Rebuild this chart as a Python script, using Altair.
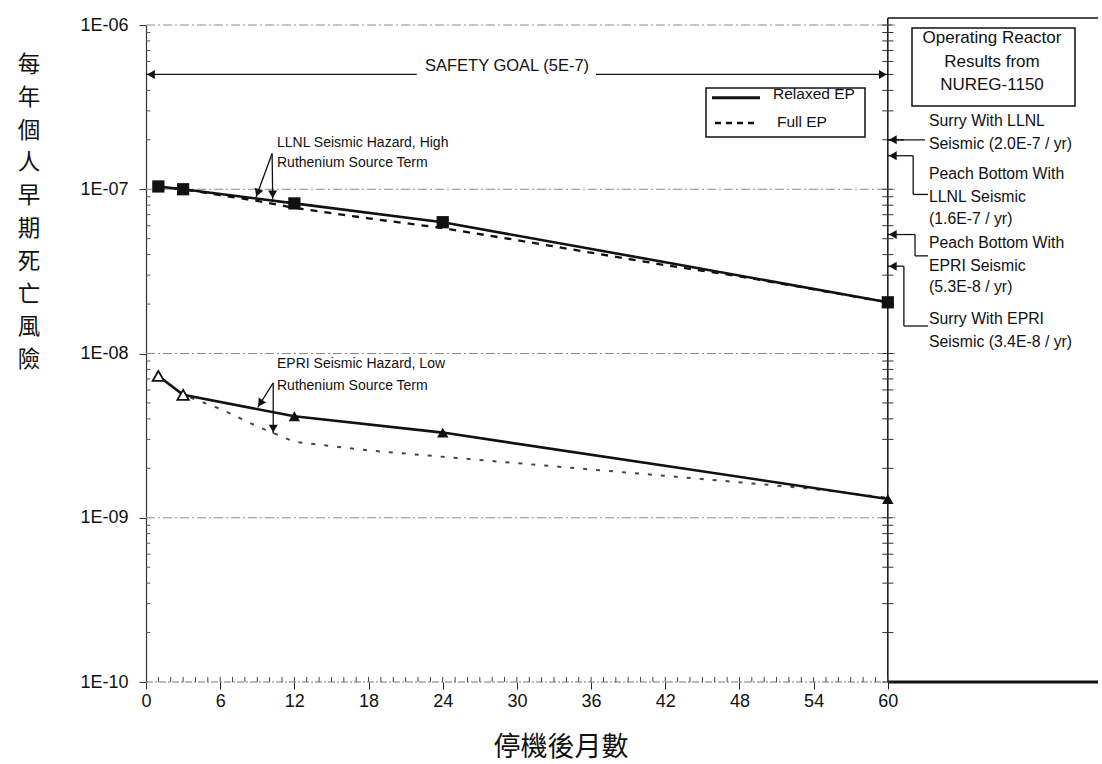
import math
import altair as alt
import pandas as pd

# ---------------- values ----------------
llnl_relaxed_months = [1, 3, 12, 24, 60]
llnl_relaxed_risk = [1.04e-7, 1.0e-7, 8.2e-8, 6.3e-8, 2.05e-8]
llnl_full_months = [1, 3, 6, 9, 12, 18, 24, 30, 42, 48, 60]
llnl_full_risk = [1.04e-7, 1.0e-7, 9.2e-8, 8.5e-8, 7.7e-8, 6.65e-8, 5.8e-8, 4.9e-8, 3.45e-8, 2.95e-8, 2.05e-8]
epri_relaxed_months = [1, 3, 12, 24, 60]
epri_relaxed_risk = [7.3e-9, 5.6e-9, 4.15e-9, 3.3e-9, 1.3e-9]
epri_full_months = [1, 3, 6, 9, 12, 18, 24, 30, 42, 54, 60]
epri_full_risk = [7.3e-9, 5.6e-9, 4.6e-9, 3.6e-9, 2.9e-9, 2.57e-9, 2.35e-9, 2.15e-9, 1.8e-9, 1.5e-9, 1.32e-9]

safety_goal = 5e-7
reactor_values = [2.0e-7, 1.6e-7, 5.3e-8, 3.4e-8]

x_tick_values = [0, 6, 12, 18, 24, 30, 36, 42, 48, 54, 60]
y_tick_values = [1e-10, 1e-9, 1e-8, 1e-7, 1e-6]

y_title = "每年個人早期死亡風險"
x_title = "停機後月數"
legend_labels = ["Relaxed EP", "Full EP"]
safety_label = "SAFETY GOAL (5E-7)"
llnl_note = ["LLNL Seismic Hazard, High", "Ruthenium Source Term"]
epri_note = ["EPRI Seismic Hazard, Low", "Ruthenium Source Term"]
box_lines = ["Operating Reactor", "Results from", "NUREG-1150"]
reactor_notes = ["Surry With LLNL", "Seismic (2.0E-7 / yr)", "Peach Bottom With",
                 "LLNL Seismic", " (1.6E-7 / yr)", "Peach Bottom With", "EPRI Seismic",
                 "(5.3E-8 / yr)", "Surry With EPRI", "Seismic (3.4E-8 / yr)"]

# ---------------- layout ----------------
W, H = 952, 657
X_MAX = 77
PXM = W / X_MAX
PXD = H / 4.0
FONT = "Liberation Sans"
CJK = "Noto Sans CJK TC"
INK = "#111111"

xs = alt.Scale(domain=[0, X_MAX], nice=False, zero=False)
ys = alt.Scale(type="log", domain=[1e-10, 1e-6], nice=False)

x_axis = alt.Axis(values=x_tick_values, title=None, grid=False, domain=False,
                  tickSize=7, tickColor="#222", labelFontSize=18, labelFont=FONT,
                  labelColor=INK, labelPadding=3, format="d", labelFlush=False)
y_axis = alt.Axis(values=y_tick_values, title=None, grid=False, domainColor="#333",
                  domainWidth=1.2, tickSize=7, tickColor="#333", labelFontSize=18,
                  labelFont=FONT, labelColor=INK, labelPadding=11,
                  labelExpr="'1E-' + (round(-log(datum.value)/LN10) < 10 ? '0' : '') + round(-log(datum.value)/LN10)")


def X(f="x"):
    return alt.X(f"{f}:Q", scale=xs, axis=x_axis)


def Y(f="y"):
    return alt.Y(f"{f}:Q", scale=ys, axis=y_axis)


def seg(rows, **kw):
    df = pd.DataFrame(rows, columns=["x", "y", "x2", "y2"])
    return alt.Chart(df).mark_rule(**kw).encode(x=X(), y=Y(), x2="x2:Q", y2="y2:Q")


def txt(s, x, y, size, align="left", font=FONT, **kw):
    return alt.Chart(pd.DataFrame({"t": [s]})).mark_text(
        align=align, baseline="middle", fontSize=size, font=font, color=INK, **kw
    ).encode(x=alt.value(x), y=alt.value(y), text="t:N")


def to_px(m, v):
    return m * PXM, (-6 - math.log10(v)) * -PXD * -1


def from_px(px, py):
    return px / PXM, 10 ** (-6 - py / PXD)


def head(tail, tip, back=5.0):
    tx, ty = to_px(*tail)
    hx, hy = to_px(*tip)
    dx, dy = hx - tx, hy - ty
    n = math.hypot(dx, dy)
    cx, cy = hx - dx / n * back, hy - dy / n * back
    ang = math.degrees(math.atan2(dx, -dy)) % 360
    m, v = from_px(cx, cy)
    return {"x": m, "y": v, "a": ang}


layers = []

# grid lines at decades
grid_rows = [(0, v, 60.6, v) for v in y_tick_values[1:]]
layers.append(seg(grid_rows, color="#8a8a8a", strokeWidth=1, strokeDash=[9, 3, 2, 3]))
# bottom axis line (dashed grey) and right-hand frame
layers.append(seg([(0, 1e-10, 60, 1e-10)], color="#777", strokeWidth=1.2, strokeDash=[7, 2, 2, 2]))
layers.append(seg([(60, 1e-10, X_MAX, 1e-10)], color=INK, strokeWidth=3))
layers.append(alt.Chart(pd.DataFrame({"x": [60], "x2": [X_MAX]})).mark_rule(color=INK, strokeWidth=1.5)
              .encode(x=X(), x2="x2:Q", y=alt.value(-7)))
layers.append(alt.Chart(pd.DataFrame({"x": [60]})).mark_rule(color=INK, strokeWidth=1.5)
              .encode(x=X(), y=alt.value(-7), y2=alt.value(H)))

# minor log ticks on left (inside) and right (crossing) axes
minor_y = [k * 10 ** d for d in range(-10, -6) for k in range(2, 10)]
layers.append(seg([(0, v, 0.35, v) for v in minor_y], color="#555", strokeWidth=1))
layers.append(seg([(59.55, v, 60.45, v) for v in minor_y + y_tick_values], color="#333", strokeWidth=1))
# monthly minor ticks on the x axis
mt = pd.DataFrame({"x": list(range(1, 61))})
layers.append(alt.Chart(mt).mark_rule(color="#444", strokeWidth=1)
              .encode(x=X(), y=alt.value(H - 5), y2=alt.value(H)))

# ---------------- series ----------------
def series(months, risk):
    return pd.DataFrame({"x": months, "y": risk})


llnl_r = series(llnl_relaxed_months, llnl_relaxed_risk)
llnl_f = series(llnl_full_months, llnl_full_risk)
epri_r = series(epri_relaxed_months, epri_relaxed_risk)
epri_f = series(epri_full_months, epri_full_risk)

layers.append(alt.Chart(llnl_f).mark_line(color=INK, strokeWidth=2.3, strokeDash=[7, 7]).encode(x=X(), y=Y()))
layers.append(alt.Chart(llnl_r).mark_line(color=INK, strokeWidth=2.6).encode(x=X(), y=Y()))
layers.append(alt.Chart(epri_f).mark_line(color="#444", strokeWidth=2, strokeDash=[4, 9]).encode(x=X(), y=Y()))
layers.append(alt.Chart(epri_r).mark_line(color=INK, strokeWidth=2.6).encode(x=X(), y=Y()))

layers.append(alt.Chart(llnl_r).mark_point(shape="square", size=150, filled=True, color=INK, opacity=1)
              .encode(x=X(), y=Y()))
layers.append(alt.Chart(epri_r).transform_filter("datum.x >= 12")
              .mark_point(shape="triangle-up", size=130, filled=True, color=INK, opacity=1)
              .encode(x=X(), y=Y()))
layers.append(alt.Chart(epri_r).transform_filter("datum.x < 12")
              .mark_point(shape="triangle-up", size=130, fill="white", stroke=INK, strokeWidth=1.8, opacity=1)
              .encode(x=X(), y=Y()))

# ---------------- annotations (arrows) ----------------
llnl_apex = (10.2, 1.65e-7)
epri_apex = (10.29, 6.62e-9)
arrows = [
    ((21.9, safety_goal), (0, safety_goal)),
    ((36.4, safety_goal), (60, safety_goal)),
    (llnl_apex, (8.89, 8.9e-8)),
    (llnl_apex, (10.25, 8.67e-8)),
    (epri_apex, (9.03, 4.69e-9)),
    (epri_apex, (10.29, 3.25e-9)),
]
for v in reactor_values:
    arrows.append(((61.3, v), (60, v)))
layers.append(seg([(a[0], a[1], b[0], b[1]) for a, b in arrows], color=INK, strokeWidth=1.3))

elbows = [
    (60, reactor_values[0], 63.0, reactor_values[0]),
    (61.3, reactor_values[1], 62.05, reactor_values[1]),
    (62.05, reactor_values[1], 62.05, 9.3e-8),
    (62.05, 9.3e-8, 63.25, 9.3e-8),
    (61.3, reactor_values[2], 62.2, reactor_values[2]),
    (62.2, reactor_values[2], 62.2, 3.93e-8),
    (62.2, 3.93e-8, 63.25, 3.93e-8),
    (61.3, reactor_values[3], 61.3, 1.47e-8),
    (61.3, 1.47e-8, 63.25, 1.47e-8),
]
layers.append(seg(elbows, color=INK, strokeWidth=1.3))

heads = pd.DataFrame([head(a, b) for a, b in arrows])
layers.append(alt.Chart(heads).mark_point(shape="triangle-up", size=80, filled=True, color=INK, opacity=1)
              .encode(x=X(), y=Y(), angle=alt.Angle("a:Q", scale=None)))

# ---------------- texts ----------------
layers.append(alt.Chart(pd.DataFrame({"x": [29.2], "y": [safety_goal]})).mark_text(
    text=safety_label, fontSize=16.5, font=FONT, color=INK, baseline="middle", dy=-8)
    .encode(x=X(), y=Y()))

for i, s in enumerate(llnl_note):
    layers.append(txt(s, 131, 117.7 + i * 20.6, 14))
for i, s in enumerate(epri_note):
    layers.append(txt(s, 131, 339.3 + i * 21.7, 14))

note_y = [96, 119, 149, 172, 194, 218, 241, 262, 294, 317]
for s, yy in zip(reactor_notes, note_y):
    layers.append(txt(s, 783, yy, 15.8))

# reactor results box
layers.append(alt.Chart(pd.DataFrame({"t": [0]})).mark_rect(fill="white", stroke=INK, strokeWidth=1.5)
              .encode(x=alt.value(766), x2=alt.value(929), y=alt.value(3), y2=alt.value(81)))
for s, yy in zip(box_lines, [13, 37, 60]):
    layers.append(txt(s, 846, yy, 17, align="center"))

# legend
layers.append(alt.Chart(pd.DataFrame({"t": [0]})).mark_rect(fill="white", stroke=INK, strokeWidth=1.5)
              .encode(x=alt.value(560), x2=alt.value(719), y=alt.value(63), y2=alt.value(112)))
layers.append(alt.Chart(pd.DataFrame({"t": [0]})).mark_rule(color=INK, strokeWidth=3)
              .encode(x=alt.value(566), x2=alt.value(614), y=alt.value(72.7)))
layers.append(alt.Chart(pd.DataFrame({"t": [0]})).mark_rule(color=INK, strokeWidth=2.5, strokeDash=[6, 5])
              .encode(x=alt.value(569), x2=alt.value(612), y=alt.value(98)))
layers.append(txt(legend_labels[0], 627, 69, 15.5))
layers.append(txt(legend_labels[1], 631, 97, 15.5))

# axis titles: vertical stacked characters on the left, horizontal title at the bottom
for i, ch in enumerate(y_title):
    layers.append(txt(ch, -117, 40 + i * 32.8, 22.5, align="center", font=CJK))
layers.append(txt(x_title, 415, 723, 27, align="center", font=CJK))

chart = alt.layer(*layers).properties(
    width=W, height=H,
    autosize=alt.AutoSizeParams(type="none"),
    padding={"left": 146, "top": 25, "right": 4, "bottom": 82},
    background="white",
).configure_view(stroke=None)

chart.save("out.html", embed_options={"renderer": "svg", "actions": False})
